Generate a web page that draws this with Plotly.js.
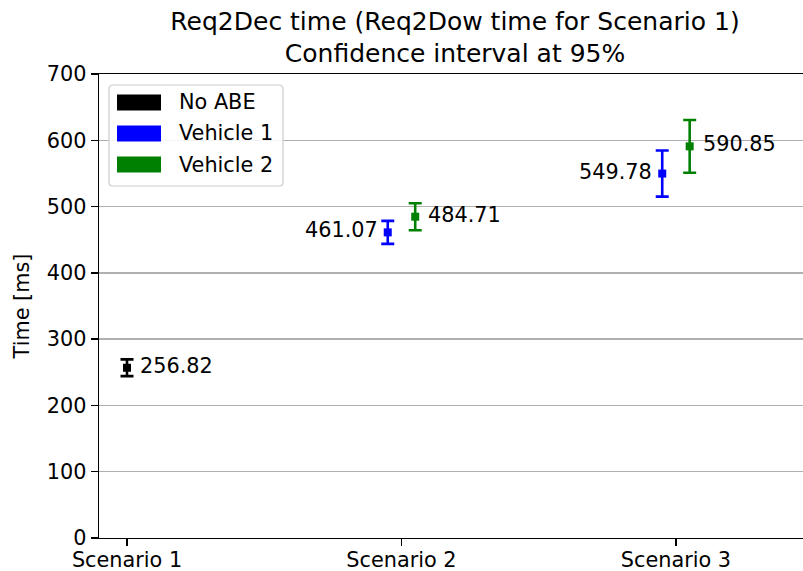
<!DOCTYPE html>
<html>
<head>
<meta charset="utf-8">
<script src="https://cdn.plot.ly/plotly-3.0.1.min.js"></script>
<style>
html, body { margin: 0; padding: 0; overflow: hidden; background: #fff; }
#chart { width: 812px; height: 571px; }
</style>
</head>
<body>
<div id="chart"></div>
<script>
// ---- data ----
const categories = ['Scenario 1', 'Scenario 2', 'Scenario 3'];
const seriesNames = ['No ABE', 'Vehicle 1', 'Vehicle 2'];
const noAbeCats = ['Scenario 1'];
const noAbeMean = [256.82];
const noAbeErr = [12.6];
const veh1Cats = ['Scenario 2', 'Scenario 3'];
const veh1Mean = [461.07, 549.78];
const veh1Err = [17.4, 34.8];
const veh2Cats = ['Scenario 2', 'Scenario 3'];
const veh2Mean = [484.71, 590.85];
const veh2Err = [20.4, 39.8];
const yTicks = [0, 100, 200, 300, 400, 500, 600, 700];

// ---- style / layout constants ----
const FONT = 'DejaVu Sans, sans-serif';
const FS = 20.8;
const colors = ['#000000', '#0000ff', '#008000'];
const offsets = [0, -0.05, 0.05];
const W = 812, H = 571;
const M = { l: 99, r: 1, t: 74, b: 33 };
const PW = W - M.l - M.r, PH = H - M.t - M.b;
const px = x => (x - M.l) / PW;
const py = y => (H - M.b - y) / PH;

function pos(cats, off) { return cats.map(c => categories.indexOf(c) + off); }

const series = [
  { name: seriesNames[0], cats: noAbeCats, mean: noAbeMean, err: noAbeErr, color: colors[0], off: offsets[0], side: 'right' },
  { name: seriesNames[1], cats: veh1Cats, mean: veh1Mean, err: veh1Err, color: colors[1], off: offsets[1], side: 'left' },
  { name: seriesNames[2], cats: veh2Cats, mean: veh2Mean, err: veh2Err, color: colors[2], off: offsets[2], side: 'right' }
];

const traces = series.map(s => ({
  type: 'scatter', mode: 'markers', name: s.name, showlegend: false,
  x: pos(s.cats, s.off), y: s.mean,
  marker: { symbol: 'square', size: 8, color: s.color },
  error_y: { type: 'data', array: s.err, visible: true, color: s.color, thickness: 2.6, width: 6.5 },
  hoverinfo: 'skip'
}));

const annotations = [];
series.forEach(s => {
  const xs = pos(s.cats, s.off);
  s.mean.forEach((v, i) => {
    annotations.push({
      x: xs[i], y: v, xref: 'x', yref: 'y', text: v.toFixed(2), showarrow: false,
      xanchor: s.side === 'right' ? 'left' : 'right', yanchor: 'middle',
      xshift: s.side === 'right' ? 12 : -9, yshift: 2, borderpad: 0,
      font: { family: FONT, size: FS, color: '#000' }
    });
  });
});

// legend (drawn in pixel positions converted to paper)
const shapes = [];
const lx0 = 109, lx1 = 283, ly0 = 85, ly1 = 186, r = 4;
const X = v => px(v), Y = v => py(v);
const path = `M ${X(lx0 + r)} ${Y(ly0)} L ${X(lx1 - r)} ${Y(ly0)} Q ${X(lx1)} ${Y(ly0)} ${X(lx1)} ${Y(ly0 + r)} ` +
  `L ${X(lx1)} ${Y(ly1 - r)} Q ${X(lx1)} ${Y(ly1)} ${X(lx1 - r)} ${Y(ly1)} L ${X(lx0 + r)} ${Y(ly1)} ` +
  `Q ${X(lx0)} ${Y(ly1)} ${X(lx0)} ${Y(ly1 - r)} L ${X(lx0)} ${Y(ly0 + r)} Q ${X(lx0)} ${Y(ly0)} ${X(lx0 + r)} ${Y(ly0)} Z`;
shapes.push({ type: 'path', xref: 'paper', yref: 'paper', path: path, fillcolor: 'rgba(255,255,255,0.85)', line: { color: '#cccccc', width: 1.2 }, layer: 'above' });
const rowY = [102.5, 133.5, 164.5];
series.forEach((s, i) => {
  shapes.push({ type: 'rect', xref: 'paper', yref: 'paper', x0: px(117), x1: px(161), y0: py(rowY[i] - 8), y1: py(rowY[i] + 8),
    fillcolor: s.color, line: { width: 0 }, layer: 'above' });
  annotations.push({ xref: 'paper', yref: 'paper', x: px(178), y: py(rowY[i]), text: s.name, showarrow: false,
    xanchor: 'left', yanchor: 'middle', borderpad: 0, font: { family: FONT, size: FS, color: '#000' } });
});

const layout = {
  width: W, height: H,
  margin: M,
  paper_bgcolor: '#fff', plot_bgcolor: '#fff',
  font: { family: FONT, size: FS, color: '#000' },
  title: { text: 'Req2Dec time (Req2Dow time for Scenario 1)<br>Confidence interval at 95%',
    x: (455 / W), xref: 'container', xanchor: 'center', y: 1 - 29.5 / H, yref: 'container', yanchor: 'middle',
    font: { family: FONT, size: 25, color: '#000' } },
  xaxis: {
    range: [-0.102, 2.492], tickvals: [0, 1, 2], ticktext: categories,
    showgrid: false, zeroline: false, showline: true, mirror: true, linecolor: '#000', linewidth: 1.3,
    ticks: 'outside', ticklen: 7, tickwidth: 1.3, tickcolor: '#000', ticklabelstandoff: -4,
    tickfont: { family: FONT, size: FS, color: '#000' }
  },
  yaxis: {
    range: [0, 700], tickvals: yTicks, ticktext: yTicks.map(String),
    showgrid: true, gridcolor: '#b0b0b0', gridwidth: 1.3, zeroline: false,
    showline: true, mirror: true, linecolor: '#000', linewidth: 1.3,
    ticks: 'outside', ticklen: 7, tickwidth: 1.3, tickcolor: '#000',
    tickfont: { family: FONT, size: FS, color: '#000' },
    title: { text: 'Time [ms]', font: { family: FONT, size: FS, color: '#000' }, standoff: 11 }
  },
  shapes: shapes,
  annotations: annotations,
  showlegend: false
};

Plotly.newPlot('chart', traces, layout, { staticPlot: true, displayModeBar: false });
</script>
</body>
</html>
